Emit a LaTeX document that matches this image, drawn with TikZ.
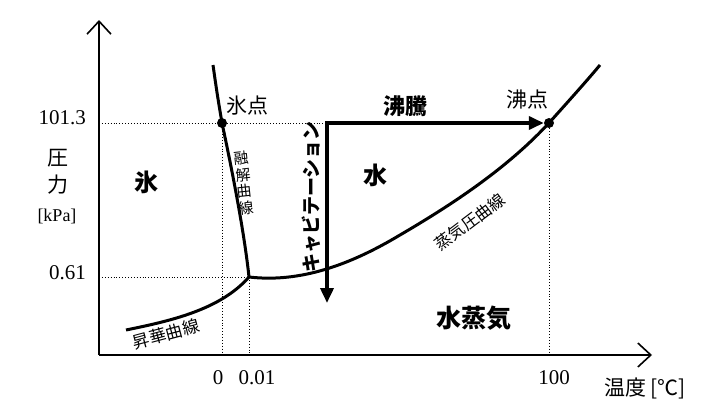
\documentclass[tikz,border=0pt]{standalone}
\usepackage{fontspec}
\setmainfont{Liberation Serif}
\newfontfamily\jp{Noto Sans CJK JP}
\usetikzlibrary{arrows.meta}
\begin{document}
\begin{tikzpicture}[x=1pt,y=-1pt,
  axis/.style={line width=2.4pt},
  curve/.style={line width=3pt},
  guide/.style={line width=0.9pt,dotted},
  thick arrow/.style={line width=3.6pt,{Triangle[length=15pt,width=13pt]}-{Triangle[length=15pt,width=13pt]}},
  num/.style={inner sep=0pt,font=\fontsize{21}{21}\selectfont},
  jpl/.style={inner sep=0pt,font=\jp\fontsize{21}{21}\selectfont},
  jps/.style={inner sep=0pt,font=\jp\fontsize{16.5}{16.5}\selectfont},
  jpb/.style={inner sep=0pt,font=\jp\bfseries\fontsize{22}{22}\selectfont},
  dot/.style={circle,fill=black,inner sep=0pt,minimum size=10pt}]
\useasboundingbox (0,0) rectangle (710,415);
% key points
\coordinate (O) at (99,355);
\coordinate (ytop) at (99,20);
\coordinate (xend) at (652,355);
\coordinate (tp) at (249,277);
\node[dot] (ice) at (222,123) {};
\node[dot] (boil) at (549,123) {};
\coordinate (cavtop) at (327,123);
\coordinate (cavend) at (327,303);
\coordinate (fustop) at (213,65);
\coordinate (sublow) at (126,330);
\coordinate (vaptop) at (600,65);
\coordinate (y101) at (99,123);
\coordinate (y061) at (99,277);
\coordinate (x0) at (222,355);
\coordinate (x001) at (249,355);
\coordinate (x100) at (549,355);
% guides
\draw[guide] (y101) -- (cavtop);
\draw[guide] (y061) -- (tp);
\draw[guide] (ice) -- (x0);
\draw[guide] (tp) -- (x001);
\draw[guide] (boil) -- (x100);
% axes
\draw[axis,-{Straight Barb[length=13pt,width=24pt,line width=1.6pt]}] (O) -- (ytop);
\draw[axis,-{Straight Barb[length=13pt,width=24pt,line width=1.6pt]}] (O) -- (xend);
% curves
\draw[curve] (fustop) .. controls (217,93) .. (ice.center) .. controls (231,165) and (244,230) .. (tp);
\draw[curve] (sublow) .. controls (170,321) and (220,310) .. (tp);
\draw[curve] (tp) .. controls (300,283) and (350,265) .. (400,235) .. controls (460,200) and (510,165) .. (boil.center) .. controls (565,105) and (585,83) .. (vaptop);
% process arrow
\draw[thick arrow,line join=miter] (cavend) -- (cavtop) -- (boil.west);
% labels
\node[num,anchor=east] (l101) at (86,118) {101.3};
\node[num,anchor=east] (l061) at (86,273) {0.61};
\node[jpl] (ya1) at (58,158) {圧};
\node[jpl] (ya2) at (58,185) {力};
\node[num,font=\fontsize{18}{18}\selectfont] (kpa) at (57,216) {[kPa]};
\node[num] (t0) at (218,378) {0};
\node[num] (t001) at (257,378) {0.01};
\node[num] (t100) at (554,378) {100};
\node[jpl] (xlab) at (645,388) {温度 [℃]};
\node[jpb,font=\jp\bfseries\fontsize{24}{24}\selectfont] (ice lab) at (146,182) {氷};
\node[jpb,font=\jp\bfseries\fontsize{24}{24}\selectfont] (water) at (375,175) {水};
\node[jpb,font=\jp\bfseries\fontsize{25}{25}\selectfont] (vapor) at (474,318) {水蒸気};
\node[jpb] (boiling) at (405,106) {沸騰};
\node[jpl] (bp) at (527,100) {沸点};
\node[jpl] (fp) at (247,106) {氷点};
\node[jpb,font=\jp\bfseries\fontsize{19}{19}\selectfont,rotate=90] (cav) at (311,197) {キャビテーション};
\node[jps,rotate=6,align=center,font=\jp\fontsize{15}{16.5}\selectfont] (fus) at (244,183) {融\\解\\曲\\線};
\node[jps,rotate=37] (vapc) at (470,222) {蒸気圧曲線};
\node[jps,font=\jp\fontsize{17}{17}\selectfont,rotate=15] (subc) at (166,334) {昇華曲線};
\end{tikzpicture}
\end{document}
